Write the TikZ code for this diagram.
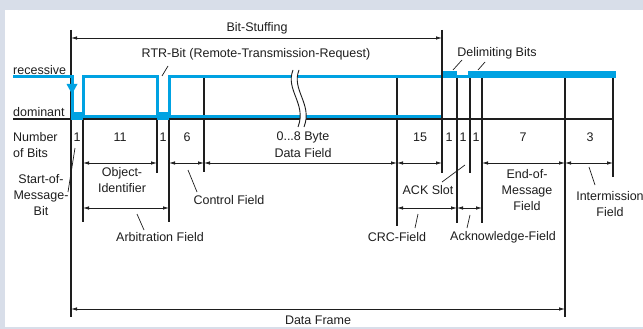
\documentclass[tikz,border=0pt]{standalone}
\usepackage{fontspec}
\setmainfont{Liberation Sans}
\usetikzlibrary{arrows.meta}
\definecolor{sig}{RGB}{0,162,226}
\definecolor{ink}{RGB}{30,30,30}
\definecolor{bgc}{RGB}{216,222,233}
\tikzset{
 lbl/.style={font=\fontsize{12.5}{16}\selectfont, text=ink, inner sep=0pt, align=center},
 dimline/.style={draw=ink, line width=0.8pt, {Latex[length=6pt,width=3.5pt]}-{Latex[length=6pt,width=3.5pt]}},
 vline/.style={draw=ink, line width=1.3pt},
 leader/.style={draw=ink, line width=0.7pt},
 sigline/.style={draw=sig, line width=3pt},
}
\begin{document}
\begin{tikzpicture}[x=1pt,y=-1pt]
\useasboundingbox (0,0) rectangle (643,329);
\fill[bgc] (0,0) rectangle (643,329);
\fill[white] (5,10) rectangle (643,327);

% base line under dominant
\draw[draw=ink, line width=1.2pt] (13,119) -- (613,119);

% vertical extension lines
\draw[vline] (71,30) -- (71,317);
\draw[vline] (83,116) -- (83,222);
\draw[vline] (157,116) -- (157,173);
\draw[vline] (169,116) -- (169,222);
\draw[vline] (204,77) -- (204,172);
\draw[vline] (397,77) -- (397,226);
\draw[vline] (457,77) -- (457,223);
\draw[vline] (470,77) -- (470,173);
\draw[vline] (482,77) -- (482,223);
\draw[vline] (565,77) -- (565,317);
\draw[vline] (613,77) -- (613,177);

% signal
\draw[sigline] (13,77) -- (72,77) -- (72,116);
\draw[sigline] (71,116) -- (442,116);
\draw[sigline] (83,116) -- (83,77) -- (157,77) -- (157,116);
\draw[sigline] (169,116) -- (169,77) -- (616,77);
\fill[sig] (71,112) rectangle (83,120);
\fill[sig] (157,112) rectangle (169,120);
\fill[sig] (442,71) rectangle (457,78.5);
\fill[sig] (468,71) rectangle (616,78.5);
\fill[sig] (66.5,84) -- (77.5,84) -- (72,94) -- cycle;
\draw[vline] (442,30) -- (442,173);

% break symbol
\fill[white] (293,70) .. controls (285,90) and (307,104) .. (298,127)
  -- (304,127) .. controls (313,104) and (291,90) .. (299,70) -- cycle;
\draw[draw=ink, line width=0.9pt] (293,70) .. controls (285,90) and (307,104) .. (298,127);
\draw[draw=ink, line width=0.9pt] (299,70) .. controls (291,90) and (313,104) .. (304,127);

% dimension arrows
\draw[dimline] (71,38) -- (442,38);
\draw[dimline] (83,163) -- (157,163);
\draw[dimline] (169,163) -- (204,163);
\draw[dimline] (204,163) -- (397,163);
\draw[dimline] (397,163) -- (442,163);
\draw[dimline] (482,163) -- (565,163);
\draw[dimline] (565,163) -- (613,163);
\draw[dimline] (83,208) -- (169,208);
\draw[dimline] (397,208) -- (457,208);
\draw[dimline] (457,208) -- (482,208);
\draw[dimline] (71,309) -- (565,309);

% leaders
\draw[leader] (168,66) -- (162,76);
\draw[leader] (462,60) -- (453,70);
\draw[leader] (485,62) -- (478,70);
\draw[leader] (68,192) -- (75,148);
\draw[leader] (188,170) -- (197,192);
\draw[leader] (137,214) -- (144,230);
\draw[leader] (418,214) -- (415,228);
\draw[leader] (442,182) -- (465,165);
\draw[leader] (470,215) -- (467,228);
\draw[leader] (589,167) -- (595,185);

% labels
\node[lbl] (bs) at (257,28) {Bit-Stuffing};
\node[lbl] (rtr) at (256,54) {RTR-Bit (Remote-Transmission-Request)};
\node[lbl] (del) at (497,53) {Delimiting Bits};
\node[lbl, anchor=west] (rec) at (13,70) {recessive};
\node[lbl, anchor=west] (dom) at (13,112) {dominant};
\node[lbl, anchor=west] (nb) at (13,137) {Number};
\node[lbl, anchor=west] (ob) at (13,153) {of Bits};
\node[lbl] at (77,137) {1};
\node[lbl] at (120,137) {11};
\node[lbl] at (163,137) {1};
\node[lbl] at (187,137) {6};
\node[lbl] at (303,137) {0...8 Byte};
\node[lbl] at (303,153) {Data Field};
\node[lbl] at (420,137) {15};
\node[lbl] at (449,137) {1};
\node[lbl] at (463,137) {1};
\node[lbl] at (476,137) {1};
\node[lbl] at (523,137) {7};
\node[lbl] at (590,137) {3};
\node[lbl] (oid) at (122,180) {Object-\\Identifier};
\node[lbl] (som) at (41,195) {Start-of-\\Message-\\Bit};
\node[lbl] (cf) at (229,200) {Control Field};
\node[lbl] (af) at (160,237) {Arbitration Field};
\node[lbl] (ack) at (428,190) {ACK Slot};
\node[lbl] (crc) at (397,237) {CRC-Field};
\node[lbl] (ackf) at (503,237) {Acknowledge-Field};
\node[lbl] (eof) at (527,190) {End-of-\\Message\\Field};
\node[lbl] (ifs) at (610,204) {Intermission\\Field};
\node[lbl] (df) at (318,320) {Data Frame};
\end{tikzpicture}
\end{document}
